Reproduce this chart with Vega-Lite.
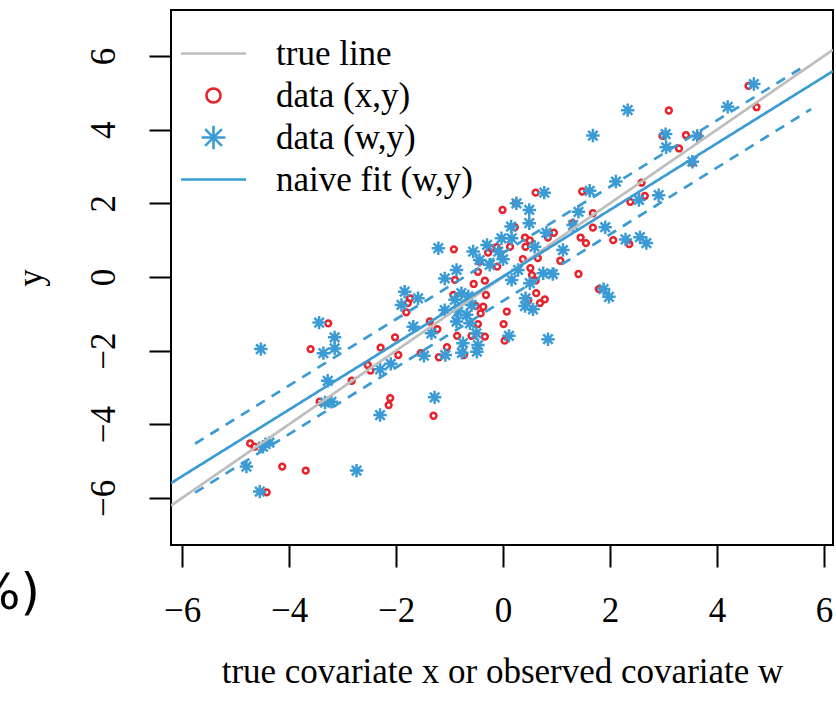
{
  "$schema": "https://vega.github.io/schema/vega-lite/v6.json",
  "width": 662,
  "height": 535,
  "autosize": {"type": "none"},
  "padding": {"left": 171, "top": 10, "right": 3, "bottom": 165},
  "background": "#ffffff",
  "title": {"text": "%)", "orient": "bottom", "anchor": "start", "frame": "group", "align": "right", "dx": -131, "dy": -124, "font": "DejaVu Sans", "fontSize": 50, "fontWeight": "normal", "color": "#000000"},
  "config": {
    "view": {"stroke": "#000000", "strokeWidth": 2},
    "axis": {"grid": false, "domain": false, "tickColor": "#000000", "tickWidth": 2, "tickSize": 22, "labelFont": "Liberation Serif", "labelFontSize": 35, "labelColor": "#000000", "titleFont": "Liberation Serif", "titleFontSize": 35, "titleFontWeight": "normal", "titleColor": "#000000", "labelFlush": false, "labelOverlap": false},
    "legend": {"orient": "none", "legendX": 25, "legendY": 26, "padding": 0, "labelFont": "Liberation Serif", "labelFontSize": 35, "labelColor": "#000000", "labelOffset": 45, "symbolSize": 529, "symbolStrokeWidth": 2.6, "rowPadding": 6, "labelLimit": 400}
  },
  "datasets": {
    "points": [
      {"series":"data (x,y)","covariate":4.59,"y":5.19},
      {"series":"data (x,y)","covariate":3.10,"y":4.52},
      {"series":"data (x,y)","covariate":4.74,"y":4.61},
      {"series":"data (x,y)","covariate":2.98,"y":3.83},
      {"series":"data (x,y)","covariate":3.42,"y":3.85},
      {"series":"data (x,y)","covariate":3.65,"y":3.83},
      {"series":"data (x,y)","covariate":3.29,"y":3.49},
      {"series":"data (x,y)","covariate":3.54,"y":3.10},
      {"series":"data (x,y)","covariate":2.59,"y":2.56},
      {"series":"data (x,y)","covariate":2.65,"y":2.20},
      {"series":"data (x,y)","covariate":2.38,"y":2.04},
      {"series":"data (x,y)","covariate":1.48,"y":2.32},
      {"series":"data (x,y)","covariate":0.61,"y":2.29},
      {"series":"data (x,y)","covariate":-0.01,"y":1.82},
      {"series":"data (x,y)","covariate":0.24,"y":2.00},
      {"series":"data (x,y)","covariate":1.68,"y":1.73},
      {"series":"data (x,y)","covariate":1.68,"y":1.34},
      {"series":"data (x,y)","covariate":1.30,"y":1.46},
      {"series":"data (x,y)","covariate":0.95,"y":1.20},
      {"series":"data (x,y)","covariate":0.84,"y":1.07},
      {"series":"data (x,y)","covariate":1.45,"y":1.07},
      {"series":"data (x,y)","covariate":1.55,"y":0.92},
      {"series":"data (x,y)","covariate":2.06,"y":1.00},
      {"series":"data (x,y)","covariate":2.36,"y":0.89},
      {"series":"data (x,y)","covariate":0.22,"y":1.35},
      {"series":"data (x,y)","covariate":0.41,"y":1.07},
      {"series":"data (x,y)","covariate":0.50,"y":0.99},
      {"series":"data (x,y)","covariate":0.42,"y":0.82},
      {"series":"data (x,y)","covariate":0.13,"y":0.82},
      {"series":"data (x,y)","covariate":0.37,"y":0.48},
      {"series":"data (x,y)","covariate":0.65,"y":0.51},
      {"series":"data (x,y)","covariate":1.07,"y":0.44},
      {"series":"data (x,y)","covariate":0.51,"y":0.24},
      {"series":"data (x,y)","covariate":0.54,"y":0.05},
      {"series":"data (x,y)","covariate":1.41,"y":0.08},
      {"series":"data (x,y)","covariate":0.61,"y":-0.10},
      {"series":"data (x,y)","covariate":0.62,"y":-0.44},
      {"series":"data (x,y)","covariate":0.78,"y":-0.61},
      {"series":"data (x,y)","covariate":0.69,"y":-0.71},
      {"series":"data (x,y)","covariate":0.47,"y":-0.64},
      {"series":"data (x,y)","covariate":0.07,"y":-0.94},
      {"series":"data (x,y)","covariate":0.01,"y":-1.28},
      {"series":"data (x,y)","covariate":0.03,"y":-1.73},
      {"series":"data (x,y)","covariate":1.79,"y":-0.33},
      {"series":"data (x,y)","covariate":-0.92,"y":0.75},
      {"series":"data (x,y)","covariate":-0.22,"y":0.78},
      {"series":"data (x,y)","covariate":-0.12,"y":0.81},
      {"series":"data (x,y)","covariate":-0.28,"y":0.66},
      {"series":"data (x,y)","covariate":-0.44,"y":0.42},
      {"series":"data (x,y)","covariate":-0.11,"y":0.28},
      {"series":"data (x,y)","covariate":-0.47,"y":0.14},
      {"series":"data (x,y)","covariate":-0.34,"y":-0.10},
      {"series":"data (x,y)","covariate":-0.90,"y":-0.08},
      {"series":"data (x,y)","covariate":-0.55,"y":-0.19},
      {"series":"data (x,y)","covariate":-0.32,"y":-0.49},
      {"series":"data (x,y)","covariate":-0.93,"y":-0.49},
      {"series":"data (x,y)","covariate":-1.74,"y":-0.58},
      {"series":"data (x,y)","covariate":-1.78,"y":-0.71},
      {"series":"data (x,y)","covariate":-1.81,"y":-0.96},
      {"series":"data (x,y)","covariate":-0.37,"y":-0.81},
      {"series":"data (x,y)","covariate":-0.51,"y":-0.79},
      {"series":"data (x,y)","covariate":-0.42,"y":-0.99},
      {"series":"data (x,y)","covariate":-0.47,"y":-1.28},
      {"series":"data (x,y)","covariate":-1.37,"y":-1.21},
      {"series":"data (x,y)","covariate":-1.23,"y":-1.42},
      {"series":"data (x,y)","covariate":-0.86,"y":-1.60},
      {"series":"data (x,y)","covariate":-0.59,"y":-1.60},
      {"series":"data (x,y)","covariate":-0.34,"y":-1.62},
      {"series":"data (x,y)","covariate":-1.05,"y":-1.91},
      {"series":"data (x,y)","covariate":-3.27,"y":-1.26},
      {"series":"data (x,y)","covariate":-3.60,"y":-1.96},
      {"series":"data (x,y)","covariate":-2.02,"y":-1.64},
      {"series":"data (x,y)","covariate":-2.29,"y":-1.92},
      {"series":"data (x,y)","covariate":-1.96,"y":-2.12},
      {"series":"data (x,y)","covariate":-1.54,"y":-2.07},
      {"series":"data (x,y)","covariate":-2.53,"y":-2.39},
      {"series":"data (x,y)","covariate":-2.48,"y":-2.54},
      {"series":"data (x,y)","covariate":-2.83,"y":-2.82},
      {"series":"data (x,y)","covariate":-3.43,"y":-3.39},
      {"series":"data (x,y)","covariate":-2.11,"y":-3.29},
      {"series":"data (x,y)","covariate":-2.14,"y":-3.48},
      {"series":"data (x,y)","covariate":-4.73,"y":-4.52},
      {"series":"data (x,y)","covariate":-4.65,"y":-4.61},
      {"series":"data (x,y)","covariate":-4.13,"y":-5.15},
      {"series":"data (x,y)","covariate":-3.69,"y":-5.26},
      {"series":"data (x,y)","covariate":-4.42,"y":-5.85},
      {"series":"data (x,y)","covariate":-1.30,"y":-3.77},
      {"series":"data (x,y)","covariate":-1.20,"y":-2.18},
      {"series":"data (x,y)","covariate":-0.73,"y":-2.12},
      {"series":"data (w,y)","covariate":4.69,"y":5.24},
      {"series":"data (w,y)","covariate":2.33,"y":4.53},
      {"series":"data (w,y)","covariate":4.20,"y":4.62},
      {"series":"data (w,y)","covariate":1.68,"y":3.84},
      {"series":"data (w,y)","covariate":3.04,"y":3.88},
      {"series":"data (w,y)","covariate":3.05,"y":3.52},
      {"series":"data (w,y)","covariate":3.63,"y":3.83},
      {"series":"data (w,y)","covariate":3.54,"y":3.13},
      {"series":"data (w,y)","covariate":2.11,"y":2.59},
      {"series":"data (w,y)","covariate":1.62,"y":2.34},
      {"series":"data (w,y)","covariate":0.77,"y":2.29},
      {"series":"data (w,y)","covariate":2.91,"y":2.22},
      {"series":"data (w,y)","covariate":2.54,"y":2.09},
      {"series":"data (w,y)","covariate":0.25,"y":2.00},
      {"series":"data (w,y)","covariate":0.49,"y":1.82},
      {"series":"data (w,y)","covariate":1.41,"y":1.77},
      {"series":"data (w,y)","covariate":0.15,"y":1.37},
      {"series":"data (w,y)","covariate":0.49,"y":1.46},
      {"series":"data (w,y)","covariate":1.31,"y":1.41},
      {"series":"data (w,y)","covariate":1.91,"y":1.35},
      {"series":"data (w,y)","covariate":0.81,"y":1.20},
      {"series":"data (w,y)","covariate":-0.03,"y":1.05},
      {"series":"data (w,y)","covariate":0.16,"y":1.05},
      {"series":"data (w,y)","covariate":0.59,"y":0.82},
      {"series":"data (w,y)","covariate":2.29,"y":1.02},
      {"series":"data (w,y)","covariate":2.56,"y":1.08},
      {"series":"data (w,y)","covariate":2.68,"y":0.92},
      {"series":"data (w,y)","covariate":1.12,"y":0.73},
      {"series":"data (w,y)","covariate":0.00,"y":0.48},
      {"series":"data (w,y)","covariate":0.28,"y":0.19},
      {"series":"data (w,y)","covariate":0.75,"y":0.10},
      {"series":"data (w,y)","covariate":0.93,"y":0.08},
      {"series":"data (w,y)","covariate":0.16,"y":-0.08},
      {"series":"data (w,y)","covariate":0.50,"y":-0.17},
      {"series":"data (w,y)","covariate":0.42,"y":-0.58},
      {"series":"data (w,y)","covariate":0.56,"y":-0.88},
      {"series":"data (w,y)","covariate":0.41,"y":-0.79},
      {"series":"data (w,y)","covariate":1.88,"y":-0.33},
      {"series":"data (w,y)","covariate":1.98,"y":-0.54},
      {"series":"data (w,y)","covariate":0.11,"y":-1.60},
      {"series":"data (w,y)","covariate":0.84,"y":-1.69},
      {"series":"data (w,y)","covariate":-1.21,"y":0.78},
      {"series":"data (w,y)","covariate":-0.56,"y":0.69},
      {"series":"data (w,y)","covariate":-0.30,"y":0.87},
      {"series":"data (w,y)","covariate":-0.09,"y":0.69},
      {"series":"data (w,y)","covariate":-0.44,"y":0.46},
      {"series":"data (w,y)","covariate":-0.25,"y":0.33},
      {"series":"data (w,y)","covariate":-0.87,"y":0.19},
      {"series":"data (w,y)","covariate":-1.09,"y":-0.04},
      {"series":"data (w,y)","covariate":-1.84,"y":-0.40},
      {"series":"data (w,y)","covariate":-1.59,"y":-0.58},
      {"series":"data (w,y)","covariate":-1.90,"y":-0.76},
      {"series":"data (w,y)","covariate":-0.78,"y":-0.44},
      {"series":"data (w,y)","covariate":-0.65,"y":-0.53},
      {"series":"data (w,y)","covariate":-0.90,"y":-0.62},
      {"series":"data (w,y)","covariate":-0.59,"y":-0.76},
      {"series":"data (w,y)","covariate":-0.84,"y":-0.94},
      {"series":"data (w,y)","covariate":-0.68,"y":-1.03},
      {"series":"data (w,y)","covariate":-1.09,"y":-0.90},
      {"series":"data (w,y)","covariate":-0.87,"y":-1.21},
      {"series":"data (w,y)","covariate":-0.62,"y":-1.26},
      {"series":"data (w,y)","covariate":-1.68,"y":-1.35},
      {"series":"data (w,y)","covariate":-1.34,"y":-1.53},
      {"series":"data (w,y)","covariate":-0.50,"y":-1.53},
      {"series":"data (w,y)","covariate":-0.75,"y":-1.80},
      {"series":"data (w,y)","covariate":-0.47,"y":-1.85},
      {"series":"data (w,y)","covariate":-3.44,"y":-1.24},
      {"series":"data (w,y)","covariate":-3.15,"y":-1.64},
      {"series":"data (w,y)","covariate":-3.15,"y":-1.94},
      {"series":"data (w,y)","covariate":-3.36,"y":-2.07},
      {"series":"data (w,y)","covariate":-4.53,"y":-1.96},
      {"series":"data (w,y)","covariate":-1.48,"y":-2.14},
      {"series":"data (w,y)","covariate":-2.30,"y":-2.51},
      {"series":"data (w,y)","covariate":-2.10,"y":-2.36},
      {"series":"data (w,y)","covariate":-3.28,"y":-2.82},
      {"series":"data (w,y)","covariate":-3.33,"y":-3.41},
      {"series":"data (w,y)","covariate":-3.21,"y":-3.39},
      {"series":"data (w,y)","covariate":-2.30,"y":-3.75},
      {"series":"data (w,y)","covariate":-4.49,"y":-4.61},
      {"series":"data (w,y)","covariate":-4.37,"y":-4.50},
      {"series":"data (w,y)","covariate":-4.80,"y":-5.15},
      {"series":"data (w,y)","covariate":-2.74,"y":-5.26},
      {"series":"data (w,y)","covariate":-4.55,"y":-5.83},
      {"series":"data (w,y)","covariate":-1.28,"y":-3.27},
      {"series":"data (w,y)","covariate":-1.08,"y":-2.12},
      {"series":"data (w,y)","covariate":-0.77,"y":-2.06},
      {"series":"data (w,y)","covariate":-0.49,"y":-2.03}
    ],
    "lines": [
      {"series":"true line","curve":"true","covariate":-6.21,"y":-6.21},
      {"series":"true line","curve":"true","covariate":6.17,"y":6.17},
      {"series":"naive fit (w,y)","curve":"fit","covariate":-6.21,"y":-5.60},
      {"series":"naive fit (w,y)","curve":"fit","covariate":6.17,"y":5.59},
      {"series":"naive fit (w,y)","curve":"upper","covariate":-5.76,"y":-4.53},
      {"series":"naive fit (w,y)","curve":"upper","covariate":5.62,"y":5.71},
      {"series":"naive fit (w,y)","curve":"lower","covariate":-5.76,"y":-5.86},
      {"series":"naive fit (w,y)","curve":"lower","covariate":5.76,"y":4.56}
    ]
  },
  "layer": [
    {
      "data": {"name": "points"},
      "mark": {"type": "point", "filled": false, "strokeWidth": 2.5, "opacity": 1},
      "encoding": {
        "x": {"field": "covariate", "type": "quantitative", "scale": {"domain": [-6.21, 6.17], "nice": false, "zero": false},
              "axis": {"values": [-6,-4,-2,0,2,4,6], "title": "true covariate x or observed covariate w", "labelPadding": 26, "titlePadding": 26}},
        "y": {"field": "y", "type": "quantitative", "scale": {"domain": [-7.28, 7.25], "nice": false, "zero": false},
              "axis": {"values": [-6,-4,-2,0,2,4,6], "title": "y", "labelAngle": 270, "labelAlign": "center", "labelBaseline": "bottom", "labelPadding": 28, "titlePadding": 38}},
        "color": {"field": "series", "type": "nominal",
                  "scale": {"domain": ["true line", "data (x,y)", "data (w,y)", "naive fit (w,y)"], "range": ["#BEBEBE", "#E8222A", "#3A9BD5", "#3A9BD5"]},
                  "legend": {"title": null, "encode": {"symbols": {"update": {"size": {"signal": "datum.value === 'data (x,y)' ? 200 : 560"}, "fill": {"value": "transparent"}}}}}},
        "shape": {"field": "series", "type": "nominal",
                  "scale": {"domain": ["true line", "data (x,y)", "data (w,y)", "naive fit (w,y)"], "range": ["M-2.75,0L2.75,0", "circle", "M0,-1L0,1M-1,0L1,0M-0.7071,-0.7071L0.7071,0.7071M-0.7071,0.7071L0.7071,-0.7071", "M-2.75,0L2.75,0"]},
                  "legend": {"title": null, "encode": {"symbols": {"update": {"size": {"signal": "datum.value === 'data (x,y)' ? 200 : 560"}, "fill": {"value": "transparent"}}}}}},
        "size": {"field": "series", "type": "nominal", "scale": {"domain": ["data (x,y)", "data (w,y)"], "range": [34, 180]}, "legend": null}
      }
    },
    {
      "data": {"name": "lines"},
      "mark": {"type": "line", "strokeWidth": 2.7, "clip": true},
      "encoding": {
        "x": {"field": "covariate", "type": "quantitative", "scale": {"domain": [-6.21, 6.17], "nice": false, "zero": false}},
        "y": {"field": "y", "type": "quantitative", "scale": {"domain": [-7.28, 7.25], "nice": false, "zero": false}},
        "detail": {"field": "curve", "type": "nominal"},
        "color": {"field": "series", "type": "nominal",
                  "scale": {"domain": ["true line", "data (x,y)", "data (w,y)", "naive fit (w,y)"], "range": ["#BEBEBE", "#E8222A", "#3A9BD5", "#3A9BD5"]},
                  "legend": {"title": null, "encode": {"symbols": {"update": {"size": {"signal": "datum.value === 'data (x,y)' ? 200 : 560"}, "fill": {"value": "transparent"}}}}}},
        "strokeDash": {"field": "curve", "type": "nominal", "scale": {"domain": ["true", "fit", "upper", "lower"], "range": [[1, 0], [1, 0], [10, 8], [10, 8]]}, "legend": null}
      }
    }
  ]
}
